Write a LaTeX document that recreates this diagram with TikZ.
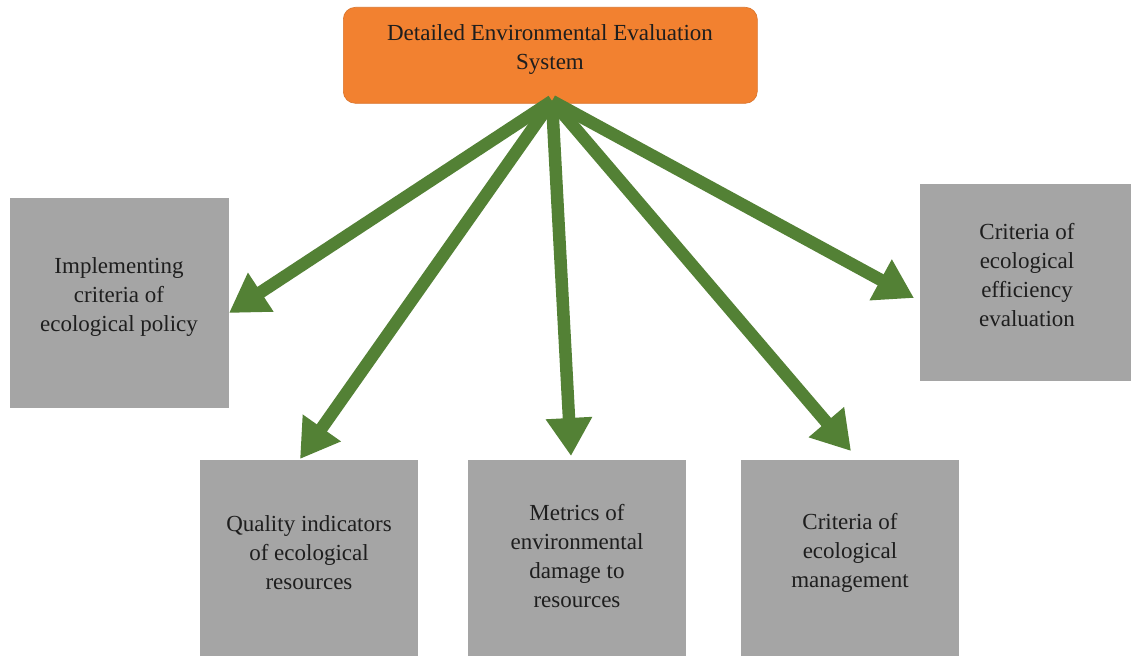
\documentclass[tikz,border=0pt]{standalone}
\usepackage{fontspec}
\setmainfont{Liberation Serif}
\usetikzlibrary{arrows.meta}
\definecolor{boxorange}{HTML}{F28130}
\definecolor{boxgray}{HTML}{A5A5A5}
\definecolor{arrgreen}{HTML}{538135}
\definecolor{txt}{HTML}{1E1E1E}
\begin{document}
\begin{tikzpicture}[x=1pt,y=-1pt,
  graybox/.style={fill=boxgray, draw=none, anchor=north west, inner sep=0pt},
  lbl/.style={align=center, text=txt, font=\fontsize{23}{29}\selectfont, inner sep=0pt},
  toparrow/.style={draw=arrgreen, line width=12.5pt, -{Triangle[width=44pt,length=38pt]}}
]
\useasboundingbox (0,0) rectangle (1131,658);
\fill[white] (0,0) rectangle (1131,658);
\node[fill=boxorange, draw=boxorange!90!black, line width=0.6pt, rounded corners=12pt, minimum width=414pt, minimum height=96pt, inner sep=0pt, anchor=north west] (top) at (343,7) {};
\node[graybox, minimum width=219pt, minimum height=210pt] (left) at (10,198) {};
\node[graybox, minimum width=211pt, minimum height=197pt] (right) at (920,184) {};
\node[graybox, minimum width=218pt, minimum height=196pt] (b1) at (200,460) {};
\node[graybox, minimum width=218pt, minimum height=196pt] (b2) at (468,460) {};
\node[graybox, minimum width=218pt, minimum height=196pt] (b3) at (741,460) {};
\node[lbl] (ttop) at (550,50) {Detailed Environmental Evaluation\\System};
\node[lbl] (tleft) at (119,297) {Implementing\\criteria of\\ecological policy};
\node[lbl] (tright) at (1027,275) {Criteria of\\ecological\\efficiency\\evaluation};
\node[lbl] (tb1l) at (309,553) {Quality indicators\\of ecological\\resources};
\node[lbl] (tb2l) at (577,556) {Metrics of\\environmental\\damage to\\resources};
\node[lbl] (tb3l) at (850,553) {Criteria of\\ecological\\management};
\coordinate (src) at (552,101);
\coordinate (tl) at (229,313);
\coordinate (tb1) at (300,459);
\coordinate (tb2) at (571,456);
\coordinate (tb3) at (851,451);
\coordinate (tr) at (914,298);
\draw[toparrow] (src) -- (tl);
\draw[toparrow] (src) -- (tb1);
\draw[toparrow] (src) -- (tb2);
\draw[toparrow] (src) -- (tb3);
\draw[toparrow] (src) -- (tr);
\end{tikzpicture}
\end{document}
